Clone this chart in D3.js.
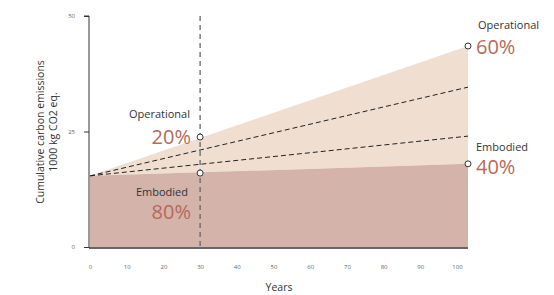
<!DOCTYPE html>
<html><head><meta charset="utf-8">
<script src="https://cdn.jsdelivr.net/npm/d3@7"></script>
<style>body{margin:0;background:#fff}svg{display:block;font-family:"Open Sans",sans-serif}</style>
</head><body><svg id="c" width="554" height="295"></svg>
<script>
const years = [0, 103];
const embodied = [15.4, 18.0];
const total = [15.4, 43.5];
const dashHigh = [15.4, 34.6];
const dashLow = [15.4, 24.0];
const xTicks = [0,10,20,30,40,50,60,70,80,90,100];
const yTicks = [0,25,50];
const markYear = 30;
const markEmbodied = 16.0, markTotal = 23.8;

const svg = d3.select("#c");
const x = d3.scaleLinear().domain([0,100]).range([90,457]);
const y = d3.scaleLinear().domain([0,50]).range([247,16]);

const area = d3.area().x((d,i)=>x(years[i]));
svg.append("path").datum(years)
  .attr("d", area.y0((d,i)=>y(embodied[i])).y1((d,i)=>y(total[i])))
  .attr("fill","#f0dfd1");
svg.append("path").datum(years)
  .attr("d", d3.area().x((d,i)=>x(years[i])).y0(y(0)).y1((d,i)=>y(embodied[i])))
  .attr("fill","#d4b3ab");

const line = arr => d3.line().x((d,i)=>x(years[i])).y((d,i)=>y(arr[i]))(years);
[dashHigh, dashLow].forEach(a=>svg.append("path").attr("d",line(a))
  .attr("fill","none").attr("stroke","#222").attr("stroke-width",1).attr("stroke-dasharray","5,3"));

svg.append("line").attr("x1",x(markYear)).attr("x2",x(markYear)).attr("y1",y(50)).attr("y2",y(0))
  .attr("stroke","#666").attr("stroke-width",1.3).attr("stroke-dasharray","5,4");

// axes
const yAxis = d3.axisLeft(y).tickValues(yTicks).tickSize(5).tickPadding(9);
const gy = svg.append("g").attr("transform","translate(89,0)").call(yAxis);
gy.select(".domain").attr("d",`M-5,${y(50)}H0V${y(0)+1}`).attr("stroke","#333");
gy.selectAll(".tick line").attr("stroke","#333");
gy.selectAll("text").attr("font-size",6).attr("fill","#666").attr("font-family","Open Sans");

const xAxis = d3.axisBottom(x).tickValues(xTicks).tickSize(0).tickPadding(17);
const gx = svg.append("g").attr("transform",`translate(0,${y(0)+1})`).call(xAxis);
gx.select(".domain").attr("d",`M89,0H${x(years[1])}`).attr("stroke","#333").attr("stroke-width",1.3);
gx.selectAll("text").attr("font-size",6).attr("fill","#666").attr("font-family","Open Sans");

svg.append("text").attr("x",279).attr("y",291).attr("text-anchor","middle")
  .attr("font-size",10.5).attr("fill","#333").text("Years");
const yt = svg.append("text").attr("transform","translate(44,132) rotate(-90)")
  .attr("text-anchor","middle").attr("font-size",10.5).attr("fill","#333");
yt.append("tspan").attr("x",0).attr("dy",0).text("Cumulative carbon emissions");
yt.append("tspan").attr("x",0).attr("dy",12.5).text("1000 kg CO2 eq.");

// circles
[[markYear,markTotal],[markYear,markEmbodied],[years[1],total[1]],[years[1],embodied[1]]].forEach(([a,b])=>
  svg.append("circle").attr("cx",x(a)).attr("cy",y(b)).attr("r",3)
    .attr("fill","#fff").attr("stroke","#333").attr("stroke-width",1));

// labels
const labels = [
  {t:"Operational", x:190, y:118, a:"end", s:11},
  {t:"20%", x:191, y:144, a:"end", s:20, c:1},
  {t:"Embodied", x:188, y:196, a:"end", s:11},
  {t:"80%", x:191, y:219, a:"end", s:20, c:1},
  {t:"Operational", x:478, y:29, a:"start", s:11},
  {t:"60%", x:476, y:54, a:"start", s:20, c:1},
  {t:"Embodied", x:476, y:151, a:"start", s:11},
  {t:"40%", x:476, y:174, a:"start", s:20, c:1}
];
labels.forEach(l=>svg.append("text").attr("x",l.x).attr("y",l.y).attr("text-anchor",l.a)
  .attr("font-size",l.s).attr("fill",l.c?"#b56a5a":"#333").text(l.t));
</script></body></html>
